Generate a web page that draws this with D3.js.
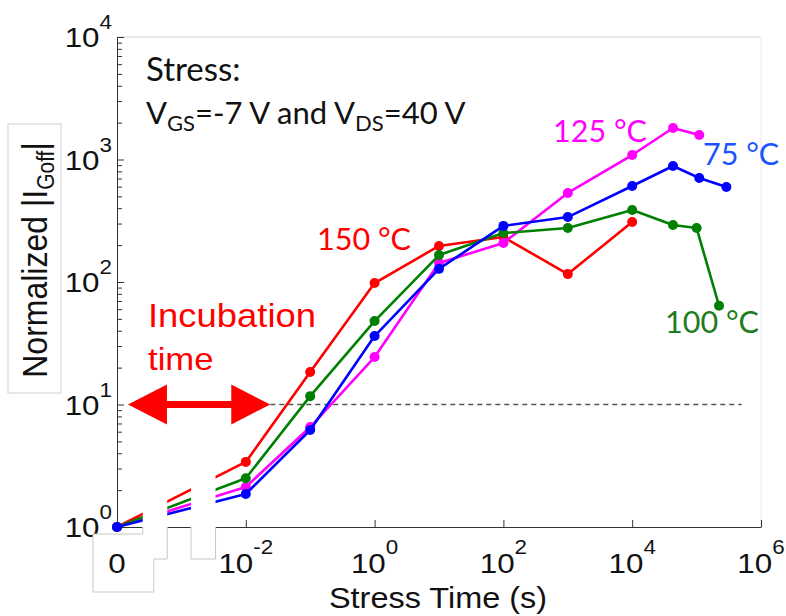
<!DOCTYPE html>
<html><head><meta charset="utf-8">
<script src="https://cdn.jsdelivr.net/npm/d3@7"></script>
<style>html,body{margin:0;padding:0;background:#fff;}svg{display:block;}</style>
</head><body>
<svg id="chart" width="786" height="616"></svg>
<script>
// ---------- data ----------
const seriesNames = ["150 °C", "125 °C", "100 °C", "75 °C"];
const redX   = [1e-4, 1e-2, 1e-1, 1, 10, 100, 1000, 1e4];
const redY   = [1, 3.4, 18.4, 98, 197, 233, 116, 309];
const magX   = [1e-4, 1e-2, 1e-1, 1, 10, 100, 1000, 1e4, 4.3e4, 1.1e5];
const magY   = [1, 2.12, 6.55, 24.4, 143, 208, 533, 1088, 1807, 1585];
const greenX = [1e-4, 1e-2, 1e-1, 1, 10, 100, 1000, 1e4, 4.3e4, 1e5, 2.23e5];
const greenY = [1, 2.5, 11.7, 48, 166, 251, 276, 387, 292, 276, 64];
const blueX  = [1e-4, 1e-2, 1e-1, 1, 10, 100, 1000, 1e4, 4.3e4, 1.1e5, 2.9e5];
const blueY  = [1, 1.86, 6.19, 36.2, 128, 287, 339, 608, 885, 706, 597];

const xTickValues = [1e-4, 1e-2, 1, 1e2, 1e4, 1e6];
const xTickBase   = ["0", "10", "10", "10", "10", "10"];
const xTickExp    = ["", "-2", "0", "2", "4", "6"];
const yTickValues = [1, 10, 100, 1000, 10000];
const yTickExp    = ["0", "1", "2", "3", "4"];
const threshold   = 10;
const thresholdX  = [10 ** -1.62, 10 ** 5.7];
const arrowX      = [10 ** -3.83, 10 ** -1.62];
const breakGaps   = [[10 ** -3.6, 10 ** -3.22], [10 ** -2.85, 10 ** -2.47]];

// ---------- layout ----------
const W = 786, H = 616;
const m = {left: 117, right: 25, top: 37, bottom: 89};
const svg = d3.select("#chart");
const x = d3.scaleLog().domain([1e-4, 1e6]).range([m.left, W - m.right]);
const y = d3.scaleLog().domain([1, 1e4]).range([H - m.bottom, m.top]);
const x0 = x.range()[0], x1 = x.range()[1], yB = y.range()[0], yT = y.range()[1];
const ARIAL = "'Liberation Sans', Arial, sans-serif";
const CAL = "Lato, 'Open Sans', sans-serif";
const SX = 1.12;

// frame (light)
svg.append("line").attr("x1", x0).attr("x2", x1).attr("y1", yT).attr("y2", yT)
  .attr("stroke", "#d2d2d2").attr("stroke-width", 1);
svg.append("line").attr("x1", x1).attr("x2", x1).attr("y1", yT).attr("y2", yB)
  .attr("stroke", "#ececec").attr("stroke-width", 1);

// y axis with minor ticks (inward)
const minors = [];
for (let k = 0; k < 4; k++) for (let j = 2; j <= 9; j++) minors.push(j * 10 ** k);
const yAx = svg.append("g").attr("transform", `translate(${x0},0)`);
yAx.call(d3.axisLeft(y).tickValues(yTickValues).tickSize(-7).tickFormat("").tickSizeOuter(0));
yAx.append("g").call(d3.axisLeft(y).tickValues(minors).tickSize(-5).tickFormat("").tickSizeOuter(0))
  .select(".domain").remove();
yAx.selectAll("path,line").attr("stroke", "#333");

// x axis
const xAx = svg.append("g").attr("transform", `translate(0,${yB})`);
xAx.call(d3.axisBottom(x).tickValues(xTickValues.slice(1)).tickSize(-7).tickFormat("").tickSizeOuter(0));
xAx.selectAll("path,line").attr("stroke", "#333");

// threshold dashed line
svg.append("line").attr("x1", x(thresholdX[0])).attr("x2", x(thresholdX[1]))
  .attr("y1", y(threshold)).attr("y2", y(threshold))
  .attr("stroke", "#555").attr("stroke-width", 1.3).attr("stroke-dasharray", "5,4");

// series
const series = [
  {xs: redX, ys: redY, color: "#ff0000"},
  {xs: magX, ys: magY, color: "#ff00ff"},
  {xs: greenX, ys: greenY, color: "#008000"},
  {xs: blueX, ys: blueY, color: "#0000ff"}
];
const line = d3.line().x(d => x(d[0])).y(d => y(d[1]));
series.forEach(s => {
  const pts = s.xs.map((v, i) => [v, s.ys[i]]);
  const g = svg.append("g");
  g.append("path").attr("d", line(pts)).attr("fill", "none")
    .attr("stroke", s.color).attr("stroke-width", 2.6).attr("stroke-linejoin", "round");
  g.selectAll("circle").data(pts).join("circle")
    .attr("cx", d => x(d[0])).attr("cy", d => y(d[1])).attr("r", 5).attr("fill", s.color);
});

// axis-break covers
breakGaps.forEach(([a, b]) => {
  svg.append("rect").attr("x", x(a)).attr("y", yB - 70).attr("width", x(b) - x(a)).attr("height", 70 + 32)
    .attr("fill", "#fff");
});

// y tick labels
yTickValues.forEach((v, i) => {
  const t = svg.append("text").attr("transform", `translate(${x0 - 5},${y(v) + 10}) scale(${SX},1)`)
    .attr("text-anchor", "end").attr("font-family", ARIAL).attr("font-size", 28).attr("fill", "#111");
  t.append("tspan").text("10");
  t.append("tspan").attr("dy", -18).attr("font-size", 20).text(yTickExp[i]);
});

// white label boxes with outlines (axis break area)
const gA = breakGaps[0], gB = breakGaps[1];
svg.append("rect").attr("x", x0 - 24).attr("y", yB + 7).attr("width", x(gA[0]) + 11 - (x0 - 24)).attr("height", 58)
  .attr("fill", "#fff");
svg.append("path").attr("fill", "none").attr("stroke", "#c8c8c8").attr("stroke-width", 1)
  .attr("d", `M${x(gA[0])},${yB} V${yB + 7} H${x0 - 24} V${yB + 65} H${x(gA[0]) + 11} V${yB + 32} H${x(gA[1])} V${yB}`);
svg.append("path").attr("fill", "none").attr("stroke", "#c8c8c8").attr("stroke-width", 1)
  .attr("d", `M${x(gB[0])},${yB} V${yB + 32} H${x(gB[1])} V${yB}`);

// x tick labels
xTickValues.forEach((v, i) => {
  const t = svg.append("text").attr("transform", `translate(${x(v)},${yB + 46}) scale(${SX},1)`)
    .attr("text-anchor", "middle").attr("font-family", ARIAL).attr("font-size", 28).attr("fill", "#111");
  t.append("tspan").text(xTickBase[i]);
  if (xTickExp[i]) t.append("tspan").attr("dy", -19).attr("font-size", 20).text(xTickExp[i]);
});

// x axis title
svg.append("text").attr("transform", `translate(${(x0 + x1) / 2 - 1},608) scale(${SX},1)`)
  .attr("text-anchor", "middle").attr("font-family", ARIAL).attr("font-size", 29).attr("fill", "#111")
  .text("Stress Time (s)");

// y axis title with box
svg.append("rect").attr("x", 8).attr("y", 124).attr("width", 53).attr("height", 269)
  .attr("fill", "#fff").attr("stroke", "#cfcfcf").attr("stroke-width", 1);
const yt = svg.append("text").attr("transform", `translate(47,260) scale(${SX},1) rotate(-90)`)
  .attr("text-anchor", "middle").attr("font-family", ARIAL).attr("font-size", 32).attr("fill", "#111");
yt.append("tspan").text("Normalized |I");
yt.append("tspan").attr("dy", 6).attr("font-size", 21).text("Goff");
yt.append("tspan").attr("dy", -6).text("|");

// incubation arrow
const ay = y(threshold), ax0 = x(arrowX[0]), ax1 = x(arrowX[1]);
const hl = 39, hw = 20, sw = 3.6;
svg.append("path").attr("fill", "#ff0000").attr("d",
  `M${ax0},${ay} L${ax0 + hl},${ay - hw} L${ax0 + hl},${ay - sw} L${ax1 - hl},${ay - sw} L${ax1 - hl},${ay - hw}
   L${ax1},${ay} L${ax1 - hl},${ay + hw} L${ax1 - hl},${ay + sw} L${ax0 + hl},${ay + sw} L${ax0 + hl},${ay + hw} Z`);

// annotations
svg.append("text").attr("transform", `translate(148,327) scale(${SX},1)`).attr("font-family", ARIAL)
  .attr("font-size", 32.5).attr("fill", "#ff0000").text("Incubation");
svg.append("text").attr("transform", `translate(148,370) scale(${SX},1)`).attr("font-family", ARIAL)
  .attr("font-size", 31).attr("fill", "#ff0000").text("time");

svg.append("text").attr("x", 146).attr("y", 81).attr("font-family", CAL).attr("font-size", 33)
  .attr("fill", "#111").text("Stress:");
const st = svg.append("text").attr("x", 146).attr("y", 124).attr("font-family", CAL).attr("font-size", 31).attr("fill", "#111");
st.append("tspan").text("V");
st.append("tspan").attr("dy", 7).attr("font-size", 22).text("GS");
st.append("tspan").attr("dy", -7).text("=-7 V and V");
st.append("tspan").attr("dy", 7).attr("font-size", 22).text("DS");
st.append("tspan").attr("dy", -7).text("=40 V");

const labelPos = [[317, 250, "#ff0000"], [553, 142, "#ff00ff"], [665, 333, "#1e7b1e"], [703, 165, "#1a53ff"]];
seriesNames.forEach((n, i) => {
  svg.append("text").attr("x", labelPos[i][0]).attr("y", labelPos[i][1]).attr("font-family", CAL)
    .attr("font-size", 30.5).attr("fill", labelPos[i][2]).text(n);
});
</script>
</body></html>
